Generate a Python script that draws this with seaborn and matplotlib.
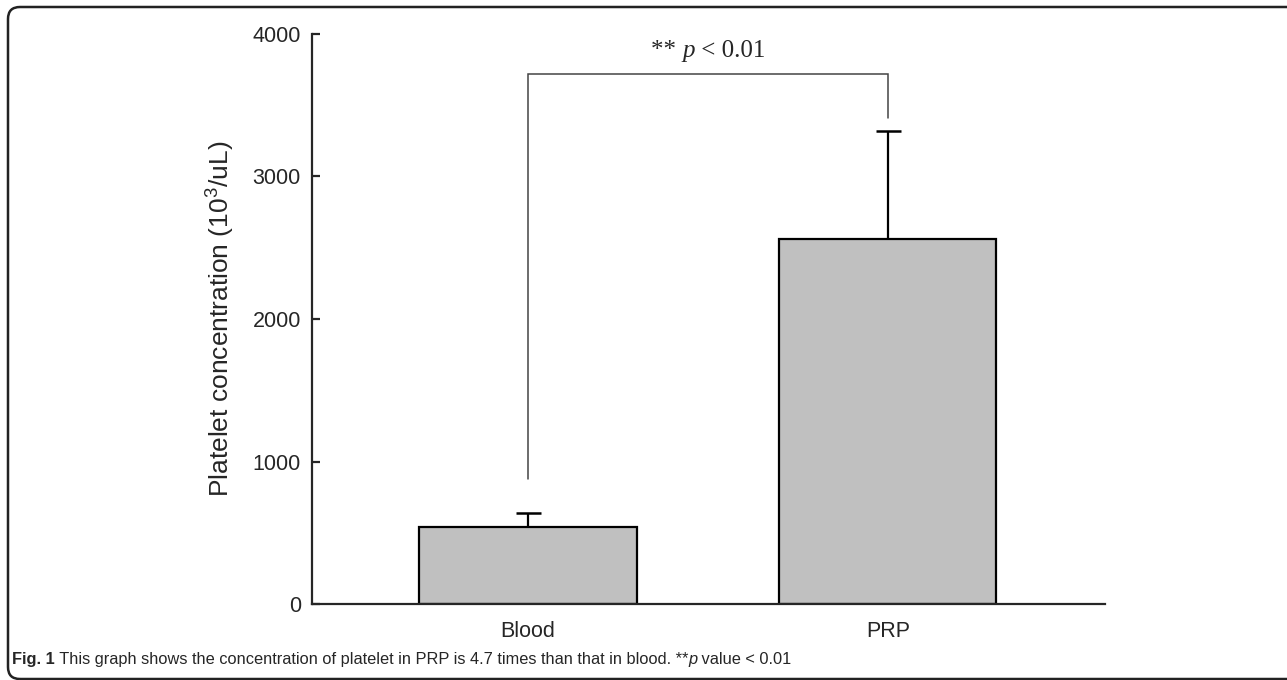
import matplotlib
matplotlib.use("Agg")
import matplotlib.pyplot as plt
import seaborn as sns
import pandas as pd
from matplotlib.patches import FancyBboxPatch
from matplotlib.transforms import IdentityTransform

# values (10^3/uL)
groups = ["Blood", "PRP"]
means = [540, 2560]
sds = [98, 760]
y_ticks = [0, 1000, 2000, 3000, 4000]
# significance bracket: height of the bar and the lower ends of its legs
bracket_top = 3720
bracket_legs = [880, 3410]
sig_label = ("** ", "p", " < 0.01")
caption_bold = "Fig. 1"
caption_text = " This graph shows the concentration of platelet in PRP is 4.7 times than that in blood. **"
caption_tail = " value < 0.01"

W, H = 1287, 680

def place_pieces(fig, x, y, pieces, ha="left"):
    # draw text pieces one after another on a shared baseline (pixel coords)
    r = fig.canvas.get_renderer()
    texts = []
    for s, kw in pieces:
        t = fig.text(0, 0, s, transform=IdentityTransform(), va="baseline", ha="left", **kw)
        texts.append(t)
    widths = [t.get_window_extent(r).width for t in texts]
    total = sum(widths)
    cx = x - total / 2 if ha == "center" else x
    for t, w in zip(texts, widths):
        t.set_position((cx, y))
        cx += w

def make_plot():
    df = pd.DataFrame({"group": groups, "mean": means, "sd": sds})

    sns.set_style("ticks")
    plt.rcParams["font.family"] = ["Liberation Sans", "DejaVu Sans"]
    plt.rcParams["mathtext.fontset"] = "custom"
    plt.rcParams["mathtext.rm"] = "Liberation Sans"

    fig = plt.figure(figsize=(W / 100, H / 100), dpi=100)
    ax = fig.add_axes([312 / W, (H - 604) / H, 793 / W, 570 / H])

    sns.barplot(data=df, x="group", y="mean", ax=ax, color="#c0c0c0",
                edgecolor="black", linewidth=1.6, width=0.603, errorbar=None,
                saturation=1)
    _, caps, _ = ax.errorbar(range(len(groups)), df["mean"], yerr=[[0] * len(sds), df["sd"]],
                             fmt="none", ecolor="black", elinewidth=1.6, capsize=9, capthick=1.8)
    caps[0].set_visible(False)  # only the upper cap

    # bracket
    ax.plot([0, 0, 1, 1], [bracket_legs[0], bracket_top, bracket_top, bracket_legs[1]],
            color="#444444", lw=1.1, solid_joinstyle="miter")

    ax.set_xlim(-0.6, 1.603)
    ax.set_ylim(0, 4000)
    ax.set_yticks(y_ticks)
    ax.tick_params(axis="y", direction="in", length=6, width=1.6, labelsize=15.5, pad=8)
    ax.tick_params(axis="x", length=0, labelsize=15.5, pad=12)
    ax.set_xlabel("")
    ax.set_ylabel("Platelet concentration (10$^{3}$/uL)", fontsize=19, labelpad=12)
    for side in ["top", "right"]:
        ax.spines[side].set_visible(False)
    for side in ["left", "bottom"]:
        ax.spines[side].set_linewidth(1.6)

    # rounded frame around figure + caption
    frame = FancyBboxPatch((8, 1), W + 40, 672, boxstyle="round,pad=0,rounding_size=12",
                           transform=IdentityTransform(), fill=False,
                           edgecolor="#222222", linewidth=1.8)
    fig.patches.append(frame)

    fig.canvas.draw()
    serif = ["Liberation Serif", "DejaVu Serif"]
    x_mid = ax.transData.transform((0.5, 0))[0]
    place_pieces(fig, x_mid, H - 57, [
        (sig_label[0], dict(family=serif, fontsize=18)),
        (sig_label[1], dict(family=serif, fontsize=18, style="italic")),
        (sig_label[2], dict(family=serif, fontsize=18)),
    ], ha="center")

    narrow = ["Liberation Sans Narrow", "Liberation Sans", "DejaVu Sans"]
    place_pieces(fig, 12, H - 664, [
        (caption_bold, dict(family=narrow, fontsize=11.8, weight="bold")),
        (caption_text, dict(family=narrow, fontsize=11.8)),
        ("p", dict(family=narrow, fontsize=11.8, style="italic")),
        (caption_tail, dict(family=narrow, fontsize=11.8)),
    ])

    fig.savefig("out.png", dpi=100)

make_plot()
